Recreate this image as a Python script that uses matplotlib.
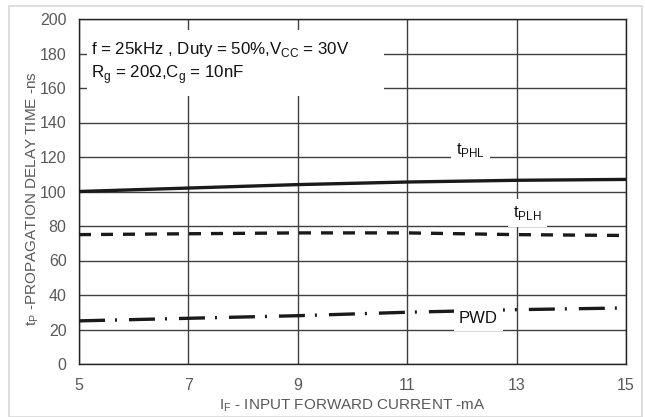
import matplotlib
matplotlib.use("Agg")
import matplotlib.pyplot as plt
from matplotlib.patches import Rectangle

plt.rcParams['font.family'] = ['Liberation Sans', 'DejaVu Sans']

current = [5, 7, 9, 11, 13, 15]
t_phl = [100, 102, 104, 105.5, 106.5, 107]
t_plh = [75, 75.5, 76, 76, 75, 74.5]
pwd = [25, 26.5, 28, 30, 31.5, 32.5]

x_ticks = [5, 7, 9, 11, 13, 15]
y_ticks = [0, 20, 40, 60, 80, 100, 120, 140, 160, 180, 200]

fig = plt.figure(figsize=(6.45, 4.17), dpi=100)
fig.patches.append(Rectangle((9/645, 0), (642-9)/645, 1-6/417, transform=fig.transFigure,
                             fill=False, edgecolor='#d9d9d9', lw=1.2))
ax = fig.add_axes([79/645, 1-364/417, (626-79)/645, (364-19)/417])

ax.set_xlim(5, 15)
ax.set_ylim(0, 200)
ax.set_xticks(x_ticks)
ax.set_yticks(y_ticks)
ax.grid(True, color='#404040', lw=1.0)
ax.set_axisbelow(True)
for s in ax.spines.values():
    s.set_color('#222222')
    s.set_linewidth(1.0)
ax.tick_params(axis='y', length=0, labelsize=11.5, colors='#595959', pad=9)
ax.tick_params(axis='x', length=0, labelsize=11.5, colors='#595959', pad=10)

ax.plot(current, t_phl, color='#1a1a1a', lw=2.4, solid_capstyle='butt', zorder=3)
ax.plot(current, t_plh, color='#1a1a1a', lw=2.4, dashes=(3.6, 3.0), zorder=3)
ax.plot(current, pwd, color='#1a1a1a', lw=2.4, dashes=(7.8, 3.0, 0.6, 3.6), zorder=3)

# white box behind the conditions text
ax.add_patch(Rectangle((0.0146, 0.777), 0.543, 0.191, transform=ax.transAxes,
                       facecolor='white', edgecolor='none', zorder=2))
ax.text(0.022, 0.912, 'f = 25kHz , Duty = 50%,V$_{\\mathregular{CC}}$ = 30V',
        transform=ax.transAxes, fontsize=12.2, va='center', ha='left', color='#111111', zorder=4)
ax.text(0.022, 0.840, 'R$_{\\mathregular{g}}$ = 20Ω,C$_{\\mathregular{g}}$ = 10nF',
        transform=ax.transAxes, fontsize=12.2, va='center', ha='left', color='#111111', zorder=4)

wb = dict(facecolor='white', edgecolor='none', boxstyle='square,pad=0.3')
ax.text(12.15, 124, 't$_{\\mathregular{PHL}}$', fontsize=12, ha='center', va='center', color='#111111',
        zorder=4, bbox=wb)
ax.text(13.2, 87.5, 't$_{\\mathregular{PLH}}$', fontsize=12, ha='center', va='center', color='#111111',
        zorder=4, bbox=wb)
ax.text(12.3, 26.5, 'PWD', fontsize=12, ha='center', va='center', color='#111111',
        zorder=4, bbox=wb)

ax.set_xlabel('I$_{\\mathregular{F}}$ - INPUT FORWARD CURRENT -mA', fontsize=11, color='#595959', labelpad=3)
ax.set_ylabel('t$_{\\mathregular{P}}$ -PROPAGATION DELAY TIME -ns', fontsize=11, color='#595959')
ax.yaxis.set_label_coords(-0.07, 0.48)

fig.savefig('out.png', dpi=100)
